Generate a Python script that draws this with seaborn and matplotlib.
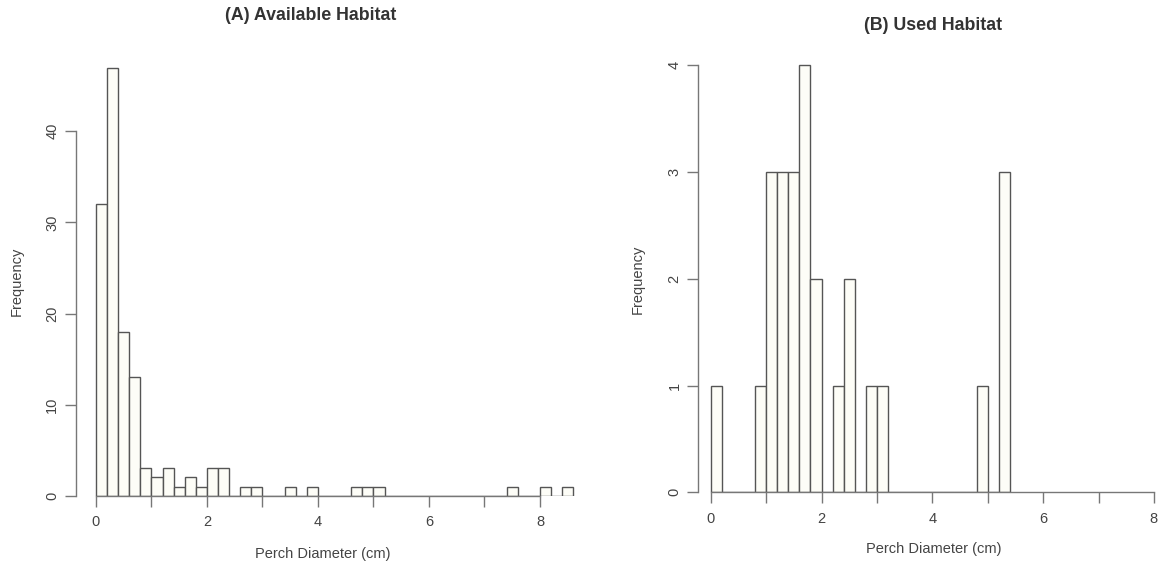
import numpy as np
import pandas as pd
import matplotlib
matplotlib.use("Agg")
import matplotlib.pyplot as plt
import seaborn as sns

# Bin width and frequency counts per 0.2 cm bin, starting at 0 cm
bin_width = 0.2
available_counts = [32, 47, 18, 13, 3, 2, 3, 1, 2, 1, 3, 3, 0, 1, 1, 0, 0, 1, 0, 1,
                    0, 0, 0, 1, 1, 1, 0, 0, 0, 0, 0, 0, 0, 0, 0, 0, 0, 1, 0, 0,
                    1, 0, 1]
used_counts = [1, 0, 0, 0, 1, 3, 3, 3, 4, 2, 0, 1, 2, 0, 1, 1, 0, 0, 0, 0,
               0, 0, 0, 0, 1, 0, 3]

titles = ["(A) Available Habitat", "(B) Used Habitat"]
x_label = "Perch Diameter (cm)"
y_label = "Frequency"

sns.set_style("white")
plt.rcParams["font.family"] = ["Liberation Sans", "DejaVu Sans"]

W, H = 1162, 567
fig = plt.figure(figsize=(W / 100, H / 100), dpi=100)
fig.patch.set_facecolor("white")

text_col = "#444444"
edge_col = "#555555"


def px_axes(left, right, top, bottom):
    return fig.add_axes([left / W, 1 - bottom / H, (right - left) / W, (bottom - top) / H])


def draw_hist(ax, counts, xlim, ylim, ybound, yticks):
    n = len(counts)
    centers = (np.arange(n) + 0.5) * bin_width
    df = pd.DataFrame({"diam": centers, "n": counts})
    sns.histplot(data=df, x="diam", weights="n", binwidth=bin_width,
                 binrange=(0, n * bin_width), ax=ax,
                 color="#fdfdf7", edgecolor=edge_col, linewidth=1.0, alpha=1)
    ax.set_xlim(*xlim)
    ax.set_ylim(*ylim)
    for s in ["top", "right"]:
        ax.spines[s].set_visible(False)
    ax.spines["left"].set_position(("data", xlim[0]))
    ax.spines["left"].set_bounds(*ybound)
    ax.spines["bottom"].set_position(("data", 0))
    ax.spines["bottom"].set_bounds(0, 8)
    for s in ["left", "bottom"]:
        ax.spines[s].set_color("#777777")
        ax.spines[s].set_linewidth(1.0)
    ax.set_xticks(range(0, 9))
    ax.set_xticklabels([str(v) if v % 2 == 0 else "" for v in range(0, 9)])
    ax.set_yticks(yticks)
    ax.set_yticklabels([str(v) for v in yticks], rotation=90, va="center")
    ax.tick_params(axis="both", direction="out", length=8, width=1.0,
                   color="#777777", labelcolor=text_col, labelsize=10.5,
                   left=True, bottom=True)
    ax.tick_params(axis="x", pad=6)
    ax.tick_params(axis="y", pad=4)
    ax.set_xlabel("")
    ax.set_ylabel("")
    ax.set_facecolor("none")


# Left panel: axis 0 -> x=96, 8 -> x=540; y 0 -> 495.7, 40 -> 131.3
ax1 = px_axes(76, 580, 495.7 - 48 * 9.11, 495.7)
draw_hist(ax1, available_counts, (-0.36, (580 - 96) / 55.5), (0, 48), (0, 40),
          [0, 10, 20, 30, 40])

# Right panel: axis 0 -> x=710.7, 8 -> x=1154; y 0 -> 492.3, 4 -> 65
ax2 = px_axes(698.3, 1156, 492.3 - 4.05 * 106.8, 492.3)
draw_hist(ax2, used_counts, (-0.224, (1156 - 710.7) / 55.4), (0, 4.05), (0, 4),
          [0, 1, 2, 3, 4])

fig.text(311 / W, 1 - 16 / H, titles[0], ha="center", va="center",
         fontsize=12.8, fontweight="bold", color="#333333")
fig.text(933 / W, 1 - 26 / H, titles[1], ha="center", va="center",
         fontsize=12.8, fontweight="bold", color="#333333")

fig.text(323 / W, 1 - 554 / H, x_label, ha="center", va="center",
         fontsize=10.5, color=text_col)
fig.text(934 / W, 1 - 549 / H, x_label, ha="center", va="center",
         fontsize=10.5, color=text_col)
fig.text(17 / W, 1 - 281 / H, y_label, ha="center", va="center",
         fontsize=10.5, color=text_col, rotation=90)
fig.text(638 / W, 1 - 279 / H, y_label, ha="center", va="center",
         fontsize=10.5, color=text_col, rotation=90)

fig.savefig("out.png", dpi=100, facecolor="white")
